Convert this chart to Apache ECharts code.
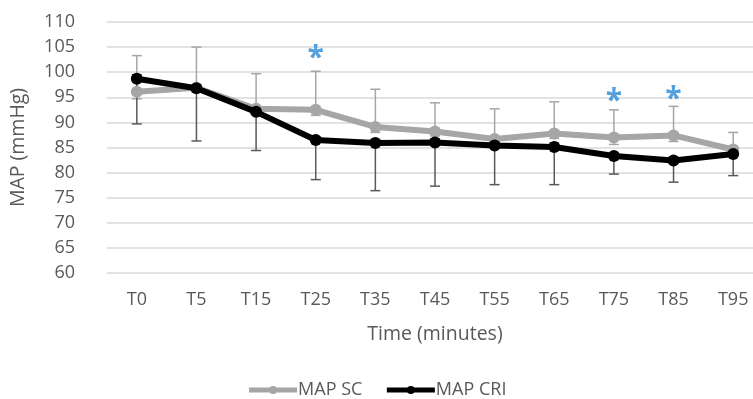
<!DOCTYPE html>
<html>
<head>
<meta charset="utf-8">
<script src="https://cdn.jsdelivr.net/npm/echarts@6/dist/echarts.min.js"></script>
<style>
  html, body { margin: 0; padding: 0; background: #fff; }
  #chart { width: 753px; height: 399px; }
</style>
</head>
<body>
<div id="chart"></div>
<script>
// time points
const categories = ["T0", "T5", "T15", "T25", "T35", "T45", "T55", "T65", "T75", "T85", "T95"];

// MAP SC (gray) - mean and error bar ends
const scMean = [96.1, 96.9, 92.7, 92.5, 89.1, 88.2, 86.7, 87.8, 87.0, 87.4, 84.6];
const scLow = [94.7, 96.0, 92.0, 91.4, 88.0, 87.3, 85.8, 86.8, 85.6, 86.2, 83.8];
const scHigh = [103.3, 105.0, 99.7, 100.2, 96.6, 93.9, 92.7, 94.1, 92.5, 93.2, 88.0];

// MAP CRI (black)
const criMean = [98.7, 96.8, 92.1, 86.5, 85.9, 86.0, 85.4, 85.1, 83.3, 82.4, 83.7];
const criLow = [89.7, 86.3, 84.4, 78.6, 76.4, 77.3, 77.6, 77.6, 79.7, 78.1, 79.4];
const criHigh = [99.5, 97.5, 92.8, 87.1, 86.6, 86.7, 86.1, 85.9, 83.9, 83.0, 84.4];

// significance markers
const starCats = ["T25", "T75", "T85"];
const starValues = [104.3, 95.8, 96.2];

const yTicks = [60, 110, 5]; // min, max, step

const font = "'Open Sans', sans-serif";
const textColor = "#595959";

// error bar drawer
const errorBar = (color) => (params, api) => {
  const lo = api.coord([api.value(0), api.value(1)]);
  const hi = api.coord([api.value(0), api.value(2)]);
  const half = 5;
  const style = { stroke: color, lineWidth: 1.5 };
  return {
    type: "group",
    children: [
      { type: "line", shape: { x1: lo[0], y1: lo[1], x2: hi[0], y2: hi[1] }, style },
      { type: "line", shape: { x1: hi[0] - half, y1: hi[1], x2: hi[0] + half, y2: hi[1] }, style },
      { type: "line", shape: { x1: lo[0] - half, y1: lo[1], x2: lo[0] + half, y2: lo[1] }, style },
    ],
  };
};

const chart = echarts.init(document.getElementById("chart"));
chart.setOption({
  animation: false,
  grid: { left: 107, right: -10, top: 22, bottom: 126, containLabel: false, outerBoundsMode: "none" },
  legend: {
    data: ["MAP SC", "MAP CRI"],
    bottom: -5,
    left: "center",
    itemWidth: 48,
    itemHeight: 10,
    itemGap: 22,
    lineStyle: { width: 5 },
    textStyle: { fontFamily: font, fontSize: 18, color: textColor, padding: [0, 0, 0, -4] },
  },
  xAxis: {
    type: "category",
    data: categories,
    boundaryGap: true,
    axisLine: { show: false },
    axisTick: { show: false },
    axisLabel: { fontFamily: font, fontSize: 18, color: textColor, margin: 18 },
    name: "Time (minutes)",
    nameLocation: "middle",
    nameGap: 51,
    nameTextStyle: { fontFamily: font, fontSize: 19.5, color: textColor },
  },
  yAxis: {
    type: "value",
    min: yTicks[0],
    max: yTicks[1],
    interval: yTicks[2],
    axisLine: { show: false },
    axisTick: { show: false },
    splitLine: { lineStyle: { color: "#d9d9d9", width: 1.5 } },
    axisLabel: { fontFamily: font, fontSize: 18, color: textColor, margin: 32 },
    name: "MAP (mmHg)",
    nameLocation: "middle",
    nameGap: 79,
    nameRotate: 90,
    nameTextStyle: { fontFamily: font, fontSize: 19.5, color: textColor },
  },
  series: [
    {
      type: "custom",
      name: "SC err",
      renderItem: errorBar("#a6a6a6"),
      data: categories.map((c, i) => [c, scLow[i], scHigh[i]]),
      encode: { x: 0, y: [1, 2] },
      z: 1,
    },
    {
      type: "custom",
      name: "CRI err",
      renderItem: errorBar("#595959"),
      data: categories.map((c, i) => [c, criLow[i], criHigh[i]]),
      encode: { x: 0, y: [1, 2] },
      z: 1,
    },
    {
      name: "MAP SC",
      type: "line",
      data: scMean,
      symbol: "circle",
      symbolSize: 12,
      itemStyle: { color: "#a6a6a6" },
      lineStyle: { color: "#a6a6a6", width: 6 },
      z: 2,
    },
    {
      name: "MAP CRI",
      type: "line",
      data: criMean,
      symbol: "circle",
      symbolSize: 12,
      itemStyle: { color: "#000" },
      lineStyle: { color: "#000", width: 6 },
      z: 3,
    },
    {
      type: "scatter",
      name: "sig",
      data: starCats.map((c, i) => [c, starValues[i]]),
      symbolSize: 0,
      label: {
        show: true,
        position: "inside",
        formatter: "*",
        fontFamily: font,
        fontSize: 30,
        fontWeight: "bold",
        color: "#2a8ad4",
        offset: [0, 8],
      },
      z: 4,
    },
  ],
});
</script>
</body>
</html>
